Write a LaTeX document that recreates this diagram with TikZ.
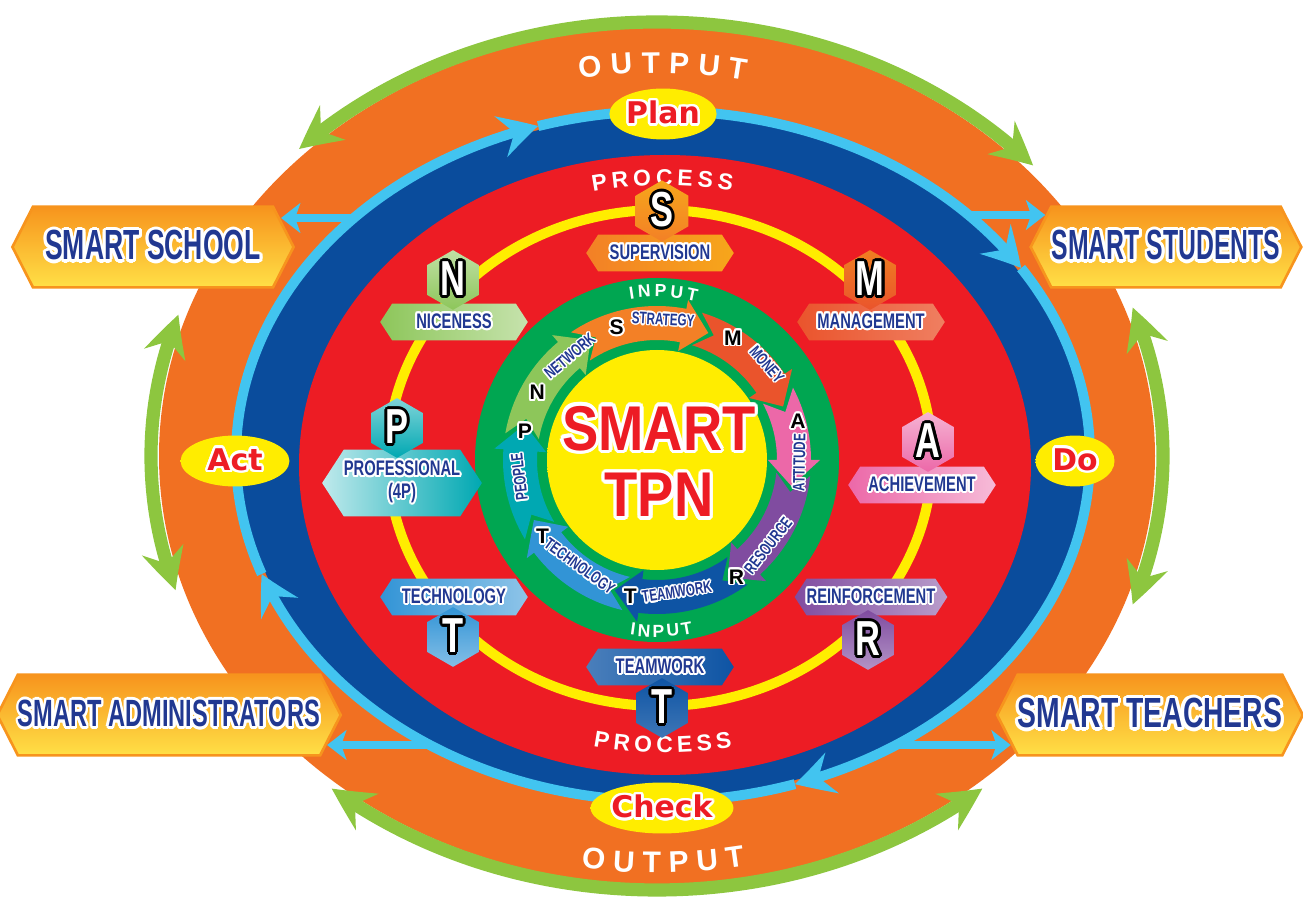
\documentclass[tikz,border=0pt]{standalone}
\usepackage{fontspec}
\usepackage{graphicx}
\usepackage{contour}
\setmainfont{Liberation Sans}
\newfontfamily\condfont[FakeStretch=0.7]{Liberation Sans}
\newfontfamily\tpnfont[FakeStretch=0.86]{Liberation Sans}
\newfontfamily\roundfont{DejaVu Sans}
\usetikzlibrary{calc, shapes.geometric, shapes.symbols, arrows.meta, bending, decorations.text}
\contournumber{16}

\definecolor{outgreen}{RGB}{141,198,63}
\definecolor{outorange}{RGB}{241,112,34}
\definecolor{skyblue}{RGB}{66,196,240}
\definecolor{deepblue}{RGB}{10,76,156}
\definecolor{procred}{RGB}{237,28,36}
\definecolor{ringyellow}{RGB}{255,237,0}
\definecolor{ringgreen}{RGB}{0,166,81}
\definecolor{navytext}{RGB}{33,56,145}
\definecolor{boxorange}{RGB}{247,148,29}
\definecolor{boxyellow}{RGB}{255,224,70}
\definecolor{sunorange}{RGB}{250,170,20}
\definecolor{cPeople}{RGB}{0,168,178}
\definecolor{cNetwork}{RGB}{141,198,90}
\definecolor{cStrategy}{RGB}{243,128,38}
\definecolor{cMoney}{RGB}{234,84,44}
\definecolor{cAttitude}{RGB}{236,104,168}
\definecolor{cResource}{RGB}{128,76,160}
\definecolor{cTeamwork}{RGB}{14,84,164}
\definecolor{cTechno}{RGB}{50,148,214}

\pgfdeclareradialshading{sunball}{\pgfpoint{0bp}{0bp}}{color(0bp)=(ringyellow); color(28bp)=(ringyellow); color(50bp)=(sunorange)}

% outlined text
\newcommand\halo[3][1.1pt]{{\contourlength{#1}\contour{#2}{#3}}}
\newcommand\arcfont{\bfseries\fontsize{17}{17}\selectfont}
\newcommand\procfont{\bfseries\fontsize{13}{13}\selectfont}
\newcommand\inputfont{\bfseries\fontsize{10}{10}\selectfont}

\tikzset{
  greenarc/.style={outgreen, line width=7.5pt,
    arrows={Stealth[length=24pt, width=24pt, inset=8pt, bend]-Stealth[length=24pt, width=24pt, inset=8pt, bend]}},
  bluearc/.style={skyblue, line width=5.7pt, arrows={-Stealth[length=22pt, width=24pt, inset=8pt, bend]}},
  bluelink/.style={skyblue, line width=4.5pt, arrows={-Stealth[length=11pt, width=17pt, inset=3pt]}},
  bigtag/.style={signal, signal to=west and east, signal pointer angle=126, draw=boxorange,
    line width=1.5pt, top color=boxorange, bottom color=boxyellow, minimum height=46pt,
    inner sep=0pt, text=navytext, font=\condfont\bfseries\fontsize{24}{24}\selectfont},
  lethex/.style={regular polygon, regular polygon sides=6, shape border rotate=30,
    minimum size=34pt, inner sep=0pt, text=white, font=\condfont\bfseries\fontsize{28}{28}\selectfont},
  ringtag/.style={signal, signal to=west and east, signal pointer angle=114, minimum width=84pt,
    minimum height=21pt, inner sep=0pt, text=navytext, font=\condfont\bfseries\fontsize{12}{12}\selectfont},
  pdca/.style={ellipse, shade, shading=sunball, inner sep=0pt, minimum height=29pt,
    text=procred, font=\roundfont\bfseries\fontsize{17}{17}\selectfont},
  ringletter/.style={inner sep=0pt, text=black, font=\bfseries\fontsize{12}{12}\selectfont},
  ringword/.style={inner sep=0pt, text=navytext, font=\condfont\bfseries\fontsize{9.5}{9.5}\selectfont},
}

\begin{document}
\begin{tikzpicture}[x=0.02cm, y=0.02cm]
\useasboundingbox (0,0) rectangle (1303,897);
%
\coordinate (outc) at (657,441);
\coordinate (bluec) at (663,441);
\coordinate (redc) at (665,432);
\coordinate (ringc) at (660,439);
\coordinate (inc) at (657,437);
%
% output band
\fill[outorange] (outc) ellipse[x radius=498, y radius=428];
\foreach \s/\e in {42/135, 161/198, 230/310, -20/20}
  \draw[greenarc] ($(outc)+(\s:506 and 434)$) arc[start angle=\s, end angle=\e, x radius=506, y radius=434];
%
% plan-do-check-act band
\fill[deepblue] (bluec) ellipse[x radius=423, y radius=341];
\foreach \s/\e in {200/107, 107/33, 33/-72, -72/-160}
  \draw[bluearc] ($(bluec)+(\s:427 and 345)$) arc[start angle=\s, end angle=\e, x radius=427, y radius=345];
%
% process band
\fill[procred] (redc) ellipse[x radius=366, y radius=310];
\draw[ringyellow, line width=5.7pt] (ringc) ellipse[x radius=272, y radius=248];
%
% input ring
\fill[ringgreen] (inc) circle[radius=182];
\shade[shading=sunball] (inc) circle[radius=110];
\begin{scope}[shift={(inc)}]
\foreach \a/\b/\col in {206/165/cPeople, 165/119/cNetwork, 119/68/cStrategy, 68/23/cMoney,
    23/-11/cAttitude, -11/-59/cResource, -59/-108/cTeamwork, -108/-154/cTechno}{
  \pgfmathsetmacro\ta{\a+5}
  \pgfmathsetmacro\na{\a-2.5}
  \pgfmathsetmacro\hb{\b+11}
  \fill[\col] (\ta:154) arc[start angle=\ta, end angle=\hb, radius=154] -- (\hb:163)
    -- (\b:137) -- (\hb:111) -- (\hb:120) arc[start angle=\hb, end angle=\ta, radius=120]
    -- (\na:137) -- cycle;
}
\node[ringword, rotate=97] (wPeople) at (187:138) {\halo[0.8pt]{white}{PEOPLE}};
\node[ringword, rotate=40] (wNetwork) at (130:135) {\halo[0.8pt]{white}{NETWORK}};
\node[ringword, rotate=-3] (wStrategy) at (87.5:140) {\halo[0.8pt]{white}{STRATEGY}};
\node[ringword, rotate=-49] (wMoney) at (41:145) {\halo[0.8pt]{white}{MONEY}};
\node[ringword, rotate=89] (wAttitude) at (-1:143) {\halo[0.8pt]{white}{ATTITUDE}};
\node[ringword, rotate=52] (wResource) at (-37.6:141) {\halo[0.8pt]{white}{RESOURCE}};
\node[ringword, rotate=9] (wTeamwork) at (-81.4:134) {\halo[0.8pt]{white}{TEAMWORK}};
\node[ringword, rotate=-36] (wTechno) at (234:132) {\halo[0.8pt]{white}{TECHNOLOGY}};
%
\node[ringletter] (lP) at (168:135) {\halo{white}{P}};
\node[ringletter] (lN) at (151:137) {\halo{white}{N}};
\node[ringletter] (lS) at (107:138) {\halo{white}{S}};
\node[ringletter] (lM) at (58:143) {\halo{white}{M}};
\node[ringletter] (lA) at (15:146) {\halo{white}{A}};
\node[ringletter] (lR) at (-56:142) {\halo{white}{R}};
\node[ringletter] (lT) at (-101:140) {\halo{white}{T}};
\node[ringletter] (lTt) at (214:138) {\halo{white}{T}};
\end{scope}
%
\node[text=procred, inner sep=0pt, font=\tpnfont\bfseries\fontsize{36}{36}\selectfont] (smart) at (659,467)
  {\halo[2pt]{white}{SMART}};
\node[text=procred, inner sep=0pt, font=\tpnfont\bfseries\fontsize{36}{36}\selectfont] (tpn) at (659,400)
  {\halo[2pt]{white}{TPN}};
%
% curved headings
\path[decorate, decoration={text along path, text align={fit to path}, text color=white, text={|\arcfont|OUTPUT}}]
  ($(outc)+(100:446 and 383)$) arc[start angle=100, end angle=78.5, x radius=446, y radius=383];
\path[decorate, decoration={text along path, text align={fit to path}, text color=white, text={|\arcfont|OUTPUT}}]
  ($(outc)+(261:485 and 417)$) arc[start angle=261, end angle=280.5, x radius=485, y radius=417];
\path[decorate, decoration={text along path, text align={fit to path}, text color=white, text={|\procfont|PROCESS}}]
  ($(redc)+(102.6:330 and 280)$) arc[start angle=102.6, end angle=78.3, x radius=330, y radius=280];
\path[decorate, decoration={text along path, text align={fit to path}, text color=white, text={|\procfont|PROCESS}}]
  ($(redc)+(257.8:340 and 288)$) arc[start angle=257.8, end angle=281.4, x radius=340, y radius=288];
\path[decorate, decoration={text along path, text align={fit to path}, text color=white, text={|\inputfont|INPUT}}]
  ($(inc)+(99.5:163)$) arc[start angle=99.5, end angle=76, radius=163];
\path[decorate, decoration={text along path, text align={fit to path}, text color=white, text={|\inputfont|INPUT}}]
  ($(inc)+(261.2:177)$) arc[start angle=261.2, end angle=281.7, radius=177];
%
% SMART letters on the process ring
\node[ringtag, left color=cStrategy, right color=cStrategy!70!yellow] (tS) at (660,644) {\halo{white}{SUPERVISION}};
\node[lethex, top color=cStrategy!70!yellow, bottom color=cStrategy] (hS) at (662,686) {\halo[1.5pt]{black}{S}};
\node[ringtag, left color=cMoney, right color=cMoney!75!white] (tM) at (871,575) {\halo{white}{MANAGEMENT}};
\node[lethex, top color=cMoney!75!yellow, bottom color=cMoney] (hM) at (870,617) {\halo[1.5pt]{black}{M}};
\node[ringtag, left color=cAttitude, right color=cAttitude!45!white] (tA) at (922,412) {\halo{white}{ACHIEVEMENT}};
\node[lethex, top color=cAttitude!50!white, bottom color=cAttitude] (hA) at (928,455) {\halo[1.5pt]{black}{A}};
\node[ringtag, left color=cResource, right color=cResource!55!white] (tR) at (871,300) {\halo{white}{REINFORCEMENT}};
\node[lethex, top color=cResource, bottom color=cResource!60!white] (hR) at (868,257) {\halo[1.5pt]{black}{R}};
\node[ringtag, left color=cTeamwork!75!white, right color=cTeamwork] (tT) at (660,230) {\halo{white}{TEAMWORK}};
\node[lethex, top color=cTeamwork, bottom color=cTeamwork!80!white] (hT) at (662,189) {\halo[1.5pt]{black}{T}};
\node[ringtag, left color=cTechno, right color=cTechno!55!white] (tTt) at (454,300) {\halo{white}{TECHNOLOGY}};
\node[lethex, top color=cTechno, bottom color=cTechno!60!white] (hTt) at (453,260) {\halo[1.5pt]{black}{T}};
\node[ringtag, minimum height=38pt, align=center, left color=cPeople!25!white, right color=cPeople] (tP) at (402,414)
  {\halo{white}{PROFESSIONAL}\\[1pt]\halo{white}{(4P)}};
\node[lethex, top color=cPeople!50!white, bottom color=cPeople] (hP) at (397,469) {\halo[1.5pt]{black}{P}};
\node[ringtag, left color=cNetwork, right color=cNetwork!50!white] (tN) at (454,575) {\halo{white}{NICENESS}};
\node[lethex, top color=cNetwork!55!white, bottom color=cNetwork] (hN) at (453,617) {\halo[1.5pt]{black}{N}};
%
% plan - do - check - act
\node[pdca, minimum width=61pt] (plan) at (663,783) {\halo[1.5pt]{white}{Plan}};
\node[pdca, minimum width=45pt] (do) at (1075,436) {\halo[1.5pt]{white}{Do}};
\node[pdca, minimum width=62pt] (check) at (662,89) {\halo[1.5pt]{white}{Check}};
\node[pdca, minimum width=62pt] (act) at (235,436) {\halo[1.5pt]{white}{Act}};
%
% outcomes
\node[bigtag, minimum width=160pt] (school) at (153,650)
  {\scalebox{0.9}[1]{\halo[1.8pt]{white}{SMART SCHOOL}}};
\node[bigtag, minimum width=154pt] (students) at (1166,650)
  {\scalebox{0.84}[1]{\halo[1.8pt]{white}{SMART STUDENTS}}};
\node[bigtag, minimum width=180pt] (admins) at (169,182)
  {\scalebox{0.8}[0.9]{\halo[1.8pt]{white}{SMART ADMINISTRATORS}}};
\node[bigtag, minimum width=172pt] (teachers) at (1150,182)
  {\scalebox{0.96}[1]{\halo[1.8pt]{white}{SMART TEACHERS}}};
%
\coordinate (sSchool) at (356,679);
\coordinate (sStudents) at (970,682);
\coordinate (sAdmins) at (428,152);
\coordinate (sTeachers) at (898,152);
\draw[bluelink] (sSchool) -- ($(school.east |- sSchool)+(-14,0)$);
\draw[bluelink] (sStudents) -- ($(students.west |- sStudents)+(16,0)$);
\draw[bluelink] (sAdmins) -- ($(admins.east |- sAdmins)+(-15,0)$);
\draw[bluelink] (sTeachers) -- ($(teachers.west |- sTeachers)+(15,0)$);
%
\end{tikzpicture}
\end{document}
